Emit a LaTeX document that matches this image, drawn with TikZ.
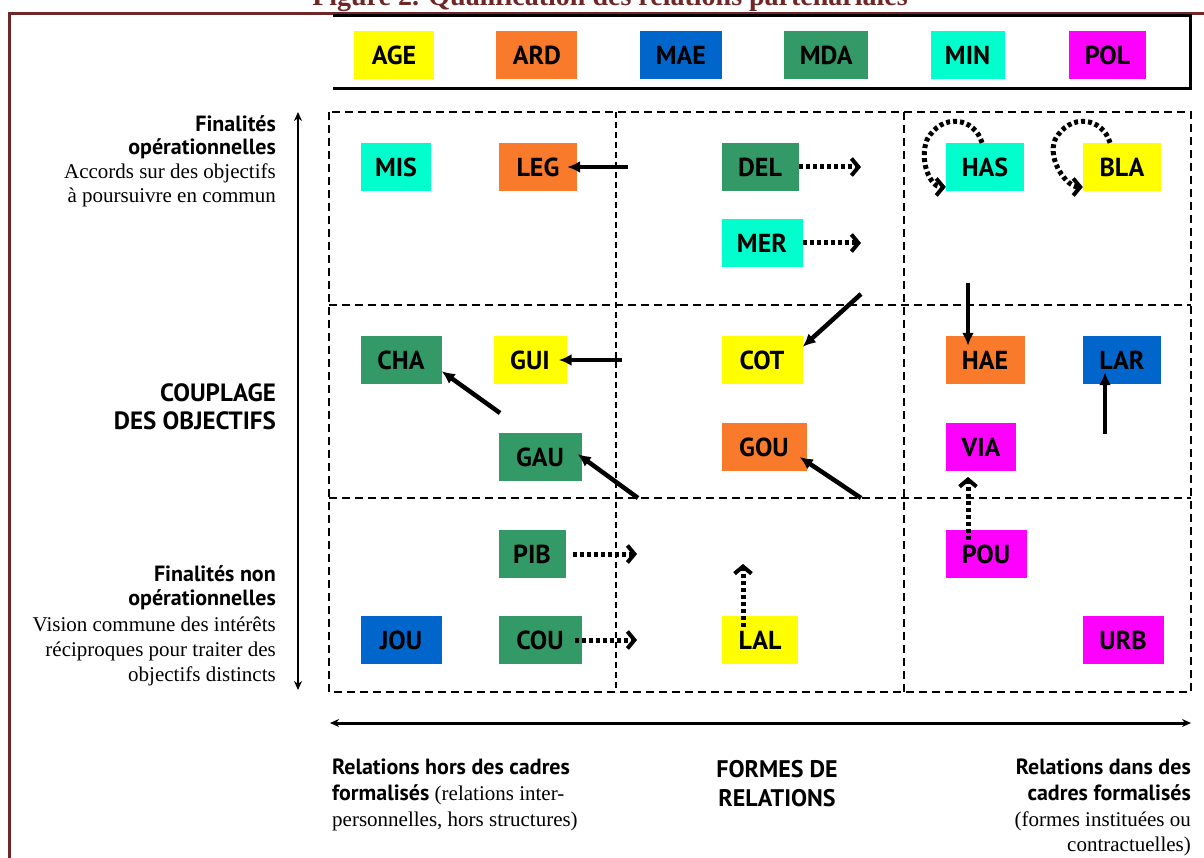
\documentclass[tikz,border=0pt]{standalone}
\usepackage{fontspec}
\setmainfont{Liberation Serif}
\newfontfamily\gill{PT Sans}
\usetikzlibrary{arrows.meta}
\usetikzlibrary{positioning}
\definecolor{age}{HTML}{FFFF00}
\definecolor{ard}{HTML}{FA7A2C}
\definecolor{mae}{HTML}{0066CC}
\definecolor{mda}{HTML}{339966}
\definecolor{min}{HTML}{00FFCC}
\definecolor{pol}{HTML}{FF00FF}
\definecolor{maroon}{HTML}{6E2626}
\newcommand{\hdfont}{\gill\bfseries\fontsize{22}{25}\selectfont}

\begin{document}
\begin{tikzpicture}[x=1pt,y=-1pt,node distance=62pt]
\tikzstyle{org}=[rectangle,inner xsep=0pt,inner ysep=0pt,minimum height=48pt,text height=18.5pt,text depth=0pt,font=\gill\bfseries\fontsize{26}{26}\selectfont]
\tikzstyle{hd}=[inner sep=0pt,font=\hdfont]
\tikzstyle{txt}=[inner sep=0pt,font=\fontsize{21}{25}\selectfont]
\tikzstyle{rel}=[->,>={Latex[length=13pt,width=12pt]},line width=4.5pt]
\tikzstyle{weak}=[->,>={Straight Barb[length=7pt,width=17pt,line width=4pt]},line width=5pt,dash pattern=on 4pt off 3pt]
\tikzstyle{cell}=[line width=2.2pt,dash pattern=on 8pt off 5pt]
\tikzstyle{axis}=[<->,>={Stealth[length=9pt,width=8pt]}]

\useasboundingbox (0,0) rectangle (1204,858);

% title and frame
\node[inner sep=0pt,anchor=base,text=maroon,font=\bfseries\fontsize{28}{28}\selectfont] (title) at (610,6) {Figure 2. Qualification des relations partenariales};
\draw[maroon,line width=2.5pt] (1204,13.7) -- (9.5,13.7) -- (9.5,858);

% legend
\draw[line width=3pt] (333,16) -- (1190,16) -- (1190,89) -- (333,89);
\node[org,fill=age,minimum width=80pt]	(AGE)	at (394,55)	{AGE};
\node[org,fill=ard,minimum width=81pt]	(ARD)	[right=of AGE]	{ARD};
\node[org,fill=mae,minimum width=82pt]	(MAE)	[right=of ARD]	{MAE};
\node[org,fill=mda,minimum width=84pt]	(MDA)	[right=of MAE]	{MDA};
\node[org,fill=min,minimum width=74pt]	(MIN)	[right=of MDA]	{MIN};
\node[org,fill=pol,minimum width=77pt]	(POL)	[right=64pt of MIN]	{POL};

% grid
\draw[cell] (329,112) rectangle (1191,692);
\draw[cell] (329,305) -- (1191,305);
\draw[cell] (329,498) -- (1191,498);
\draw[cell] (904,112) -- (904,692);
\draw[line width=1.6pt,dash pattern=on 6pt off 4pt] (616,112) -- (616,692);

% axes
\coordinate (ytop) at (298,112);
\coordinate (ybot) at (298,690);
\coordinate (xl) at (330,723);
\coordinate (xr) at (1191,723);
\draw[axis,line width=1.6pt] (ytop) -- (ybot);
\draw[axis,line width=3pt] (xl) -- (xr);

% left texts
\node[hd,anchor=base east]	(f1)	at (276,132)	{Finalités};
\node[hd,anchor=base east]	(f2)	at (276,155)	{opérationnelles};
\node[txt,anchor=base east]	(f3)	at (276,179)	{Accords sur des objectifs};
\node[txt,anchor=base east]	(f4)	at (276,203)	{à poursuivre en commun};
\node[inner sep=0pt,anchor=base east,font=\gill\bfseries\fontsize{25}{28}\selectfont]	(c1)	at (276,401)	{COUPLAGE};
\node[inner sep=0pt,anchor=base east,font=\gill\bfseries\fontsize{25}{28}\selectfont]	(c2)	at (276,429)	{DES OBJECTIFS};
\node[hd,anchor=base east]	(n1)	at (276,581)	{Finalités non};
\node[hd,anchor=base east]	(n2)	at (276,605)	{opérationnelles};
\node[txt,anchor=base east]	(n3)	at (276,631)	{Vision commune des intérêts};
\node[txt,anchor=base east]	(n4)	at (276,656)	{réciproques pour traiter des};
\node[txt,anchor=base east]	(n5)	at (276,681)	{objectifs distincts};

% bottom texts
\node[hd,anchor=base west]	(b1)	at (332,774)	{Relations hors des cadres};
\node[txt,anchor=base west]	(b2)	at (332,800)	{{\hdfont formalisés} (relations inter-};
\node[txt,anchor=base west]	(b3)	at (332,826)	{personnelles, hors structures)};
\node[inner sep=0pt,anchor=base,font=\gill\bfseries\fontsize{24}{28}\selectfont]	(m1)	at (777,777)	{FORMES DE};
\node[inner sep=0pt,anchor=base,font=\gill\bfseries\fontsize{24}{28}\selectfont]	(m2)	at (777,806)	{RELATIONS};
\node[hd,anchor=base east]	(r1)	at (1191,774)	{Relations dans des};
\node[hd,anchor=base east]	(r2)	at (1191,800)	{cadres formalisés};
\node[txt,anchor=base east]	(r3)	at (1191,826)	{(formes instituées ou};
\node[txt,anchor=base east]	(r4)	at (1191,851)	{contractuelles)};

% partners
\node[org,fill=min,minimum width=70pt]	(MIS)	at (396,167)	{MIS};
\node[org,fill=ard,minimum width=78pt]	(LEG)	at (538,167)	{LEG};
\node[org,fill=mda,minimum width=77pt]	(DEL)	at (760,167)	{DEL};
\node[org,fill=min,minimum width=81pt]	(MER)	at (762,243)	{MER};
\node[org,fill=min,minimum width=78pt]	(HAS)	at (985,167)	{HAS};
\node[org,fill=age,minimum width=78pt]	(BLA)	at (1122,167)	{BLA};
\node[org,fill=mda,minimum width=81pt]	(CHA)	at (401,360)	{CHA};
\node[org,fill=age,minimum width=73pt]	(GUI)	at (530,360)	{GUI};
\node[org,fill=age,minimum width=81pt]	(COT)	at (762,360)	{COT};
\node[org,fill=ard,minimum width=79pt]	(HAE)	at (985,360)	{HAE};
\node[org,fill=mae,minimum width=78pt]	(LAR)	at (1122,360)	{LAR};
\node[org,fill=mda,minimum width=83pt]	(GAU)	at (540,457)	{GAU};
\node[org,fill=ard,minimum width=85pt]	(GOU)	at (764,447)	{GOU};
\node[org,fill=pol,minimum width=70pt]	(VIA)	at (981,447)	{VIA};
\node[org,fill=mda,minimum width=67pt]	(PIB)	at (532,554)	{PIB};
\node[org,fill=pol,minimum width=81pt]	(POU)	at (986,554)	{POU};
\node[org,fill=mae,minimum width=81pt]	(JOU)	at (401,640)	{JOU};
\node[org,fill=mda,minimum width=83pt]	(COU)	at (540,640)	{COU};
\node[org,fill=age,minimum width=76pt]	(LAL)	at (760,640)	{LAL};
\node[org,fill=pol,minimum width=81pt]	(URB)	at (1123,640)	{URB};

% loose ends of the relations
\coordinate (legs) at (628,167);
\coordinate (dele) at (861,167);
\coordinate (mere) at (861,243);
\coordinate (guis) at (622,360);
\coordinate (cots) at (861,294);
\coordinate (chas) at (500,413);
\coordinate (gaus) at (638,498);
\coordinate (gous) at (861,498);
\coordinate (haes) at (968,283);
\coordinate (lars) at (1105,434);
\coordinate (viae) at (968,477);
\coordinate (pibe) at (637,554);
\coordinate (coue) at (637,640);
\coordinate (lale) at (743,564);

% relations
\draw[rel,shorten >=-10pt] (legs) -- (LEG.east);
\draw[rel,shorten >=-8pt] (guis) -- (GUI.east);
\draw[rel] (cots) -- ([yshift=-11pt]COT.north east);
\draw[rel] (chas) -- ([yshift=13pt]CHA.south east);
\draw[rel,shorten >=-5pt] (gaus) -- (GAU.east);
\draw[rel] (gous) -- ([xshift=-7pt,yshift=-10pt]GOU.east);
\draw[rel,shorten >=-10pt] (haes) -- (haes |- HAE.north);
\draw[rel,shorten >=-12pt] (lars) -- (lars |- LAR.south);

\draw[weak] (DEL.east) -- (dele);
\draw[weak] (MER.east) -- (mere);
\draw[weak,shorten <=7pt] (PIB.east) -- (pibe);
\draw[weak,shorten <=-7pt] (COU.east) -- (coue);
\draw[weak] (POU.north -| viae) ++(0,10) -- (viae);
\draw[weak] (LAL.north -| lale) ++(0,11) -- (lale);
\draw[weak] ([xshift=-3pt]HAS.north) .. controls +(-7,-25) and +(15,-28) .. +(-55,-3)
	.. controls +(-8,20) and +(-16,0) .. ([yshift=-20pt]HAS.west);
\draw[weak] ([xshift=-12pt]BLA.north) .. controls +(-7,-25) and +(15,-28) .. +(-55,-3)
	.. controls +(-8,20) and +(-16,0) .. ([yshift=-20pt]BLA.west);
\end{tikzpicture}
\end{document}
